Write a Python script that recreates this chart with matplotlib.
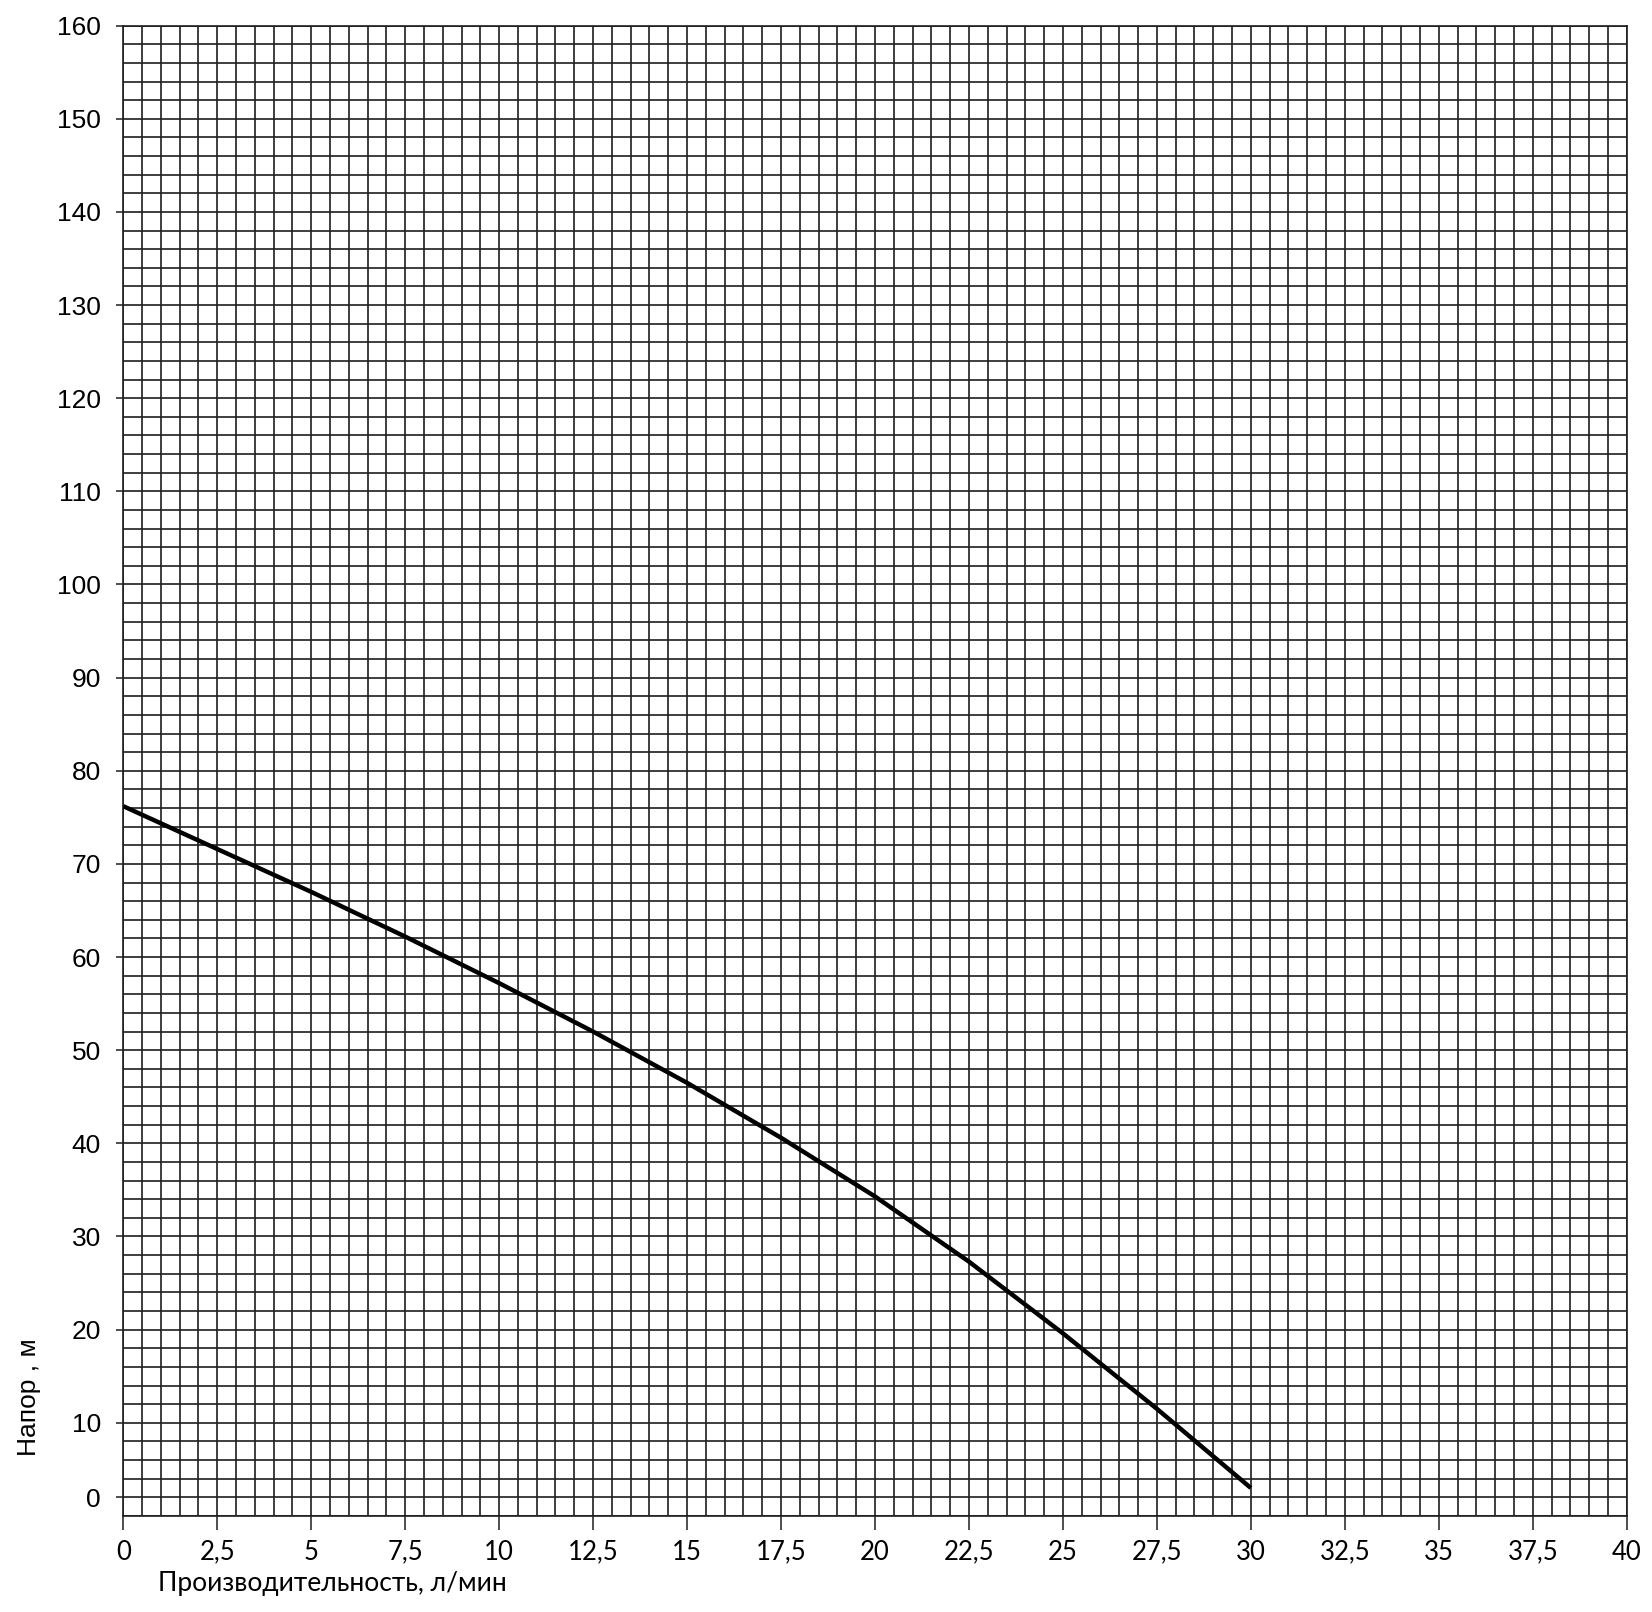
import matplotlib
matplotlib.use("Agg")
import matplotlib.pyplot as plt
from matplotlib.ticker import MultipleLocator

# данные характеристики насоса
flow = [0, 2.5, 5, 7.5, 10, 12.5, 15, 17.5, 20, 22.5, 25, 27.5, 30]
head = [76.2, 71.6, 67.0, 62.2, 57.2, 52.0, 46.5, 40.6, 34.3, 27.3, 19.6, 11.5, 3.0]

# подписи осей
x_ticks = [0, 2.5, 5, 7.5, 10, 12.5, 15, 17.5, 20, 22.5, 25, 27.5, 30, 32.5, 35, 37.5, 40]
x_tick_labels = ["0", "2,5", "5", "7,5", "10", "12,5", "15", "17,5", "20",
                 "22,5", "25", "27,5", "30", "32,5", "35", "37,5", "40"]
# в оригинале подпись "0" стоит на первой линии сетки над низом
y_ticks = [2, 10, 20, 30, 40, 50, 60, 70, 80, 90, 100, 110, 120, 130, 140, 150, 160]
y_tick_labels = ["0", "10", "20", "30", "40", "50", "60", "70", "80", "90",
                 "100", "110", "120", "130", "140", "150", "160"]

grid_color = "#1e1e1e"

fig = plt.figure(figsize=(16.52, 16.12), dpi=100)
ax = fig.add_axes([0.0746, 0.0596, 0.9101, 0.9245])

ax.plot(flow, head, color="black", linewidth=3.2, solid_capstyle="butt",
        solid_joinstyle="round", zorder=3)

ax.set_xlim(0, 40)
ax.set_ylim(0, 160)

# сетка: по x шаг 0,5, по y шаг 2
ax.xaxis.set_minor_locator(MultipleLocator(0.5))
ax.yaxis.set_minor_locator(MultipleLocator(2))
ax.set_xticks(x_ticks)
ax.set_xticklabels(x_tick_labels, family="Lato", fontsize=18.5)
ax.set_yticks(y_ticks)
ax.set_yticklabels(y_tick_labels, family="Liberation Sans", fontsize=19)
ax.grid(True, which="both", color=grid_color, linewidth=1.2)
ax.set_axisbelow(True)

ax.tick_params(axis="x", which="major", length=10, width=1.1, color=grid_color, pad=7)
ax.tick_params(axis="y", which="major", length=5, width=1.1, color=grid_color, pad=11)
ax.tick_params(which="minor", length=0)

for s in ax.spines.values():
    s.set_color(grid_color)
    s.set_linewidth(1.2)

ax.set_xlabel("Производительность, л/мин", family="Lato", fontsize=19, ha="left", va="center")
ax.xaxis.set_label_coords(0.023, -0.0454)
ax.set_ylabel("Напор , м", family="Liberation Sans", fontsize=19, ha="center", va="center")
ax.yaxis.set_label_coords(-0.0627, 0.0795)

fig.savefig("out.png", dpi=100, facecolor="white")
